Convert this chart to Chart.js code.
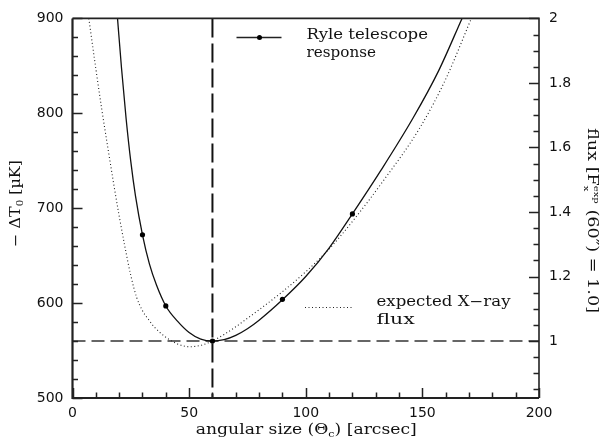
<!DOCTYPE html>
<html><head><meta charset="utf-8">
<script src="https://cdn.jsdelivr.net/npm/chart.js@4.4.1/dist/chart.umd.min.js"></script>
<style>html,body{margin:0;padding:0;background:#fff;}</style>
</head><body>
<canvas id="c" width="600" height="445" style="display:block"></canvas>
<script>
// ---- data ----
const ryleTheta = [19.3, 21, 23, 25, 27, 30, 33, 36, 40, 45, 50, 55, 60, 65, 70, 75, 80, 90, 100, 110, 120, 132, 146, 157, 167];
const ryleDT    = [900, 848, 794, 749, 713, 672, 641, 619, 597, 581, 569, 562, 560, 561.5, 566, 573, 582, 603.5, 628, 658, 694, 739, 795, 845, 900];
const ryleMarkTheta = [30, 40, 60, 90, 120];
const ryleMarkDT    = [672, 597, 560, 604, 694];
const xrayTheta = [7, 10, 12.5, 15, 17.5, 20, 22.5, 25, 27.5, 30, 32.5, 35, 37.5, 40, 45, 50, 55, 60, 65, 70, 75, 80, 90, 100, 110, 120, 133, 149, 160, 171];
const xrayDT    = [900, 847, 805, 766, 728, 692, 659, 629, 606, 592, 583, 575, 569, 564, 557, 554, 555.5, 560, 567, 575, 584, 593, 612, 633, 657, 686, 728, 785, 836, 900];
const refTheta = 60;
const refDT = 560;
const xTickValues = [0, 50, 100, 150, 200];
const leftTickValues = [500, 600, 700, 800, 900];
const rightTickValues = [1, 1.2, 1.4, 1.6, 1.8, 2];
const rightTickLabels = ['1', '1.2', '1.4', '1.6', '1.8', '2'];
const xRange = [0, 200];
const leftRange = [500, 900];
// flux axis: 1.0 at refDT, 2.0 at 900 uK
const fluxAt = t => 1 + (t - refDT) / (900 - refDT);

const pts = (xs, ys) => xs.map((x, i) => ({x: x, y: ys[i]}));

const tickFont = {family: 'DejaVu Sans', size: 14};
const serif = 'DejaVu Serif';

function drawRich(ctx, segs, x, y, angle, targetW, align) {
  ctx.save();
  ctx.translate(x, y);
  ctx.rotate(angle);
  const widths = segs.map(s => { ctx.font = s.size + 'px ' + serif; return ctx.measureText(s.t).width; });
  let total = 0;
  segs.forEach((s, i) => { if (!s.stackWith) total += widths[i]; else total += Math.max(0, widths[i] - widths[i-1]); });
  const sx = targetW ? targetW / total : 1;
  ctx.scale(sx, 1);
  let cx = align === 'left' ? 0 : -total / 2;
  ctx.fillStyle = '#111';
  ctx.textBaseline = 'alphabetic';
  ctx.textAlign = 'left';
  segs.forEach((s, i) => {
    ctx.font = s.size + 'px ' + serif;
    if (s.stackWith) {
      const startX = cx - widths[i-1];
      ctx.fillText(s.t, startX, s.dy || 0);
      cx = Math.max(cx, startX + widths[i]);
    } else {
      ctx.fillText(s.t, cx, s.dy || 0);
      cx += widths[i];
    }
  });
  ctx.restore();
}

const decor = {
  id: 'decor',
  afterDraw(chart) {
    const ctx = chart.ctx;
    const a = chart.chartArea;
    const xs = chart.scales.x, yl = chart.scales.y, yr = chart.scales.y2;
    ctx.save();
    ctx.strokeStyle = '#222';
    ctx.lineCap = 'butt';
    // frame
    ctx.lineWidth = 2.2;
    ctx.beginPath();
    ctx.moveTo(a.left, a.top); ctx.lineTo(a.left, a.bottom); ctx.lineTo(a.right, a.bottom);
    ctx.stroke();
    ctx.lineWidth = 1.6;
    ctx.beginPath();
    ctx.moveTo(a.left, a.top); ctx.lineTo(a.right, a.top); ctx.lineTo(a.right, a.bottom);
    ctx.stroke();
    // ticks (inside)
    ctx.lineWidth = 1.5;
    ctx.beginPath();
    for (let v = leftRange[0]; v <= leftRange[1] + 1e-9; v += 20) {
      const y = Math.round(yl.getPixelForValue(v)) + 0.5;
      const len = (v % 100 === 0) ? 10 : 5.5;
      ctx.moveTo(a.left, y); ctx.lineTo(a.left + len, y);
    }
    for (let k = 17; k <= 40; k++) {
      const v = k * 0.05;
      const y = Math.round(yr.getPixelForValue(v)) + 0.5;
      const len = (k % 4 === 0) ? 10 : 5.5;
      ctx.moveTo(a.right, y); ctx.lineTo(a.right - len, y);
    }
    for (let v = xRange[0]; v <= xRange[1]; v += 10) {
      const x = Math.round(xs.getPixelForValue(v)) + 0.5;
      const len = (v % 50 === 0) ? 10 : 5.5;
      ctx.moveTo(x, a.bottom); ctx.lineTo(x, a.bottom - len);
    }
    ctx.stroke();

    // legend 1: Ryle telescope response
    ctx.strokeStyle = '#222';
    ctx.lineWidth = 1.3;
    ctx.setLineDash([]);
    ctx.beginPath(); ctx.moveTo(236.5, 37.5); ctx.lineTo(281.5, 37.5); ctx.stroke();
    ctx.fillStyle = '#000';
    ctx.beginPath(); ctx.arc(259.5, 37.5, 2.5, 0, Math.PI * 2); ctx.fill();
    drawRich(ctx, [{t: 'Ryle telescope', size: 14}], 306.5, 38.5, 0, 121.5, 'left');
    drawRich(ctx, [{t: 'response', size: 14}], 306.5, 56.5, 0, 121.5 * 8 / 14, 'left');
    // legend 2: expected X-ray flux
    ctx.strokeStyle = '#222';
    ctx.lineWidth = 1.1;
    ctx.setLineDash([1, 2.5]);
    ctx.beginPath(); ctx.moveTo(305, 307.5); ctx.lineTo(353, 307.5); ctx.stroke();
    ctx.setLineDash([]);
    drawRich(ctx, [{t: 'expected X\u2212ray', size: 14}], 376.5, 306, 0, 134, 'left');
    drawRich(ctx, [{t: 'flux', size: 14}], 376.5, 323.5, 0, 134 * 4 / 14, 'left');

    // axis titles
    drawRich(ctx, [
      {t: 'angular size (\u0398', size: 14},
      {t: 'c', size: 9, dy: 3},
      {t: ') [arcsec]', size: 14}
    ], 306.3, 434, 0, 221, 'center');
    drawRich(ctx, [
      {t: '\u2212 \u0394T', size: 14},
      {t: '0', size: 9, dy: 3},
      {t: ' [\u00b5K]', size: 14}
    ], 20, 203.5, -Math.PI / 2, 87, 'center');
    drawRich(ctx, [
      {t: 'flux [F', size: 14},
      {t: 'exp', size: 8, dy: -6},
      {t: 'x', size: 8, dy: 4, stackWith: true},
      {t: ' (60\u2033) = 1.0]', size: 14}
    ], 588, 220.5, Math.PI / 2, 185, 'center');
    ctx.restore();
  }
};

new Chart(document.getElementById('c'), {
  type: 'line',
  data: {
    datasets: [
      {label: 'Ryle telescope response', data: pts(ryleTheta, ryleDT), borderColor: '#111', borderWidth: 1.3,
       pointRadius: 0, cubicInterpolationMode: 'monotone', fill: false, order: 1},
      {label: 'Ryle points', data: pts(ryleMarkTheta, ryleMarkDT), showLine: false, pointRadius: 2.6,
       pointBackgroundColor: '#000', pointBorderWidth: 0, order: 0},
      {label: 'expected X-ray flux', data: pts(xrayTheta, xrayDT), borderColor: '#222', borderWidth: 1.1,
       borderDash: [1, 2.5], pointRadius: 0, cubicInterpolationMode: 'monotone', fill: false, order: 2},
      {label: 'ref theta', data: [{x: refTheta, y: leftRange[1]}, {x: refTheta, y: leftRange[0]}], borderColor: '#111',
       borderWidth: 2, borderDash: [19, 6], pointRadius: 0, order: 3},
      {label: 'ref dT', data: [{x: xRange[0], y: refDT}, {x: xRange[1], y: refDT}], borderColor: '#666',
       borderWidth: 2, borderDash: [13, 6], pointRadius: 0, order: 4}
    ]
  },
  options: {
    responsive: false,
    animation: false,
    devicePixelRatio: 1,
    layout: {padding: {top: 8, left: 0, right: 0, bottom: 0}},
    plugins: {legend: {display: false}, tooltip: {enabled: false}},
    scales: {
      x: {
        type: 'linear', min: xRange[0], max: xRange[1],
        grid: {display: false, drawTicks: false}, border: {display: false},
        ticks: {font: tickFont, color: '#111', padding: 7, maxRotation: 0, callback: v => String(v)},
        afterBuildTicks: s => { s.ticks = xTickValues.map(v => ({value: v})); },
        afterFit: s => { s.height = 47; }
      },
      y: {
        type: 'linear', position: 'left', min: leftRange[0], max: leftRange[1],
        grid: {display: false, drawTicks: false}, border: {display: false},
        ticks: {font: tickFont, color: '#111', padding: 9, callback: v => String(v)},
        afterBuildTicks: s => { s.ticks = leftTickValues.map(v => ({value: v})); },
        afterFit: s => { s.width = 72.5; }
      },
      y2: {
        type: 'linear', position: 'right', min: fluxAt(leftRange[0]), max: fluxAt(leftRange[1]),
        grid: {display: false, drawTicks: false}, border: {display: false},
        ticks: {font: tickFont, color: '#111', padding: 10,
          callback: v => { const i = rightTickValues.findIndex(r => Math.abs(r - v) < 1e-6); return i >= 0 ? rightTickLabels[i] : ''; }},
        afterBuildTicks: s => { s.ticks = rightTickValues.map(v => ({value: v})); },
        afterFit: s => { s.width = 61; }
      }
    }
  },
  plugins: [decor]
});
</script>
</body></html>
